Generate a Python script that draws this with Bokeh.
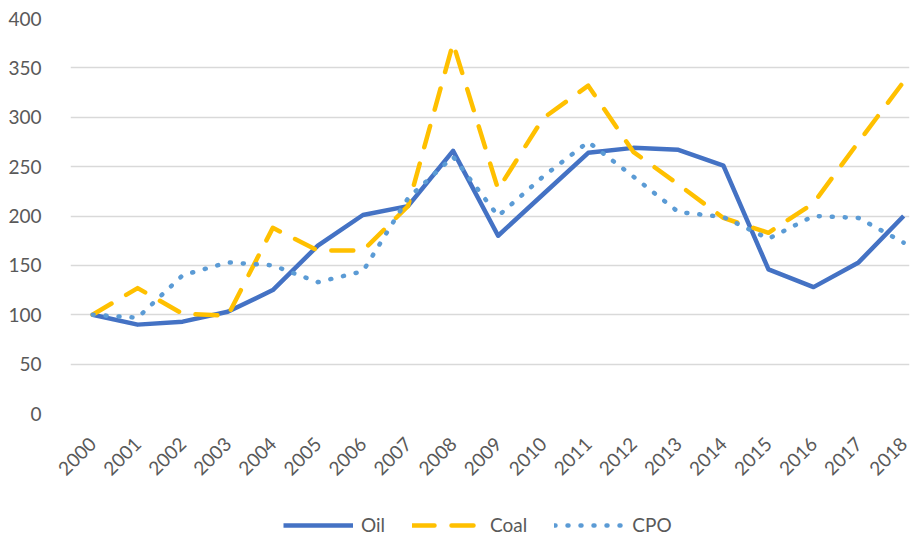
from bokeh.plotting import figure
from bokeh.models import FixedTicker, Legend, LegendItem, Range1d
from bokeh.layouts import column
from bokeh.embed import file_html
from bokeh.resources import INLINE
import math

years = list(range(2000, 2019))
oil = [100, 90, 93, 103, 125, 170, 201, 210, 266, 180, 222, 264, 269, 267, 251, 146, 128, 153, 200]
coal = [100, 127, 101, 99, 188, 165, 165, 210, 375, 227, 299, 332, 265, 232, 198, 183, 213, 275, 336]
cpo = [100, 97, 140, 153, 150, 133, 144, 218, 260, 200, 240, 275, 240, 204, 199, 177, 200, 198, 173]
y_ticks = [0, 50, 100, 150, 200, 250, 300, 350, 400]
series_names = ["Oil", "Coal", "CPO"]

FONT = "Lato"
GREY = "#595959"
FS = "19px"
styles = [
    dict(line_color="#4472C4", line_width=4.5, line_join="round"),
    dict(line_color="#FFC000", line_width=4.5, line_dash="22 17", line_cap="round", line_join="round"),
    dict(line_color="#5B9BD5", line_width=4.5, line_dash="1 12", line_cap="round", line_join="round"),
]

p = figure(width=917, height=484, output_backend="svg", toolbar_location=None,
           x_range=Range1d(1999.51, 2018.13), y_range=Range1d(0, 400),
           min_border_left=70, min_border_right=8, min_border_top=18, min_border_bottom=68)
p.outline_line_color = None

for vals, st in zip([oil, coal, cpo], styles):
    p.line(years, vals, **st)

p.xaxis.ticker = FixedTicker(ticks=years)
p.yaxis.ticker = FixedTicker(ticks=y_ticks)
p.xaxis.major_label_orientation = math.pi / 4
for ax in (p.xaxis, p.yaxis):
    ax.axis_line_color = None
    ax.major_tick_line_color = None
    ax.minor_tick_line_color = None
    ax.major_label_text_font = FONT
    ax.major_label_text_font_size = FS
    ax.major_label_text_color = GREY
p.yaxis.major_label_standoff = 23
p.xaxis.major_label_standoff = 21

p.xgrid.grid_line_color = None
p.ygrid.grid_line_color = "#d9d9d9"
p.ygrid.grid_line_width = 1.3

# legend row (its frame is aligned with the main frame by the column layout)
lf = figure(width=917, height=52, output_backend="svg", toolbar_location=None,
            x_range=Range1d(0, 1), y_range=Range1d(0, 1),
            min_border_left=70, min_border_right=8, min_border_top=0, min_border_bottom=0)
lf.outline_line_color = None
lf.axis.visible = False
lf.grid.visible = False
items = []
for name, st in zip(series_names, styles):
    r = lf.line([-10, -9], [-10, -10], **st)
    items.append(LegendItem(label=name, renderers=[r]))
legend = Legend(items=items, orientation="horizontal", location=(213, 0),
                label_text_font=FONT, label_text_font_size=FS, label_text_color=GREY,
                glyph_width=70, glyph_height=18, spacing=27, label_standoff=8,
                border_line_color=None, background_fill_alpha=0, margin=0, padding=0)
lf.add_layout(legend, "center")

open("out.html", "w").write(file_html(column(p, lf, spacing=0), INLINE))
